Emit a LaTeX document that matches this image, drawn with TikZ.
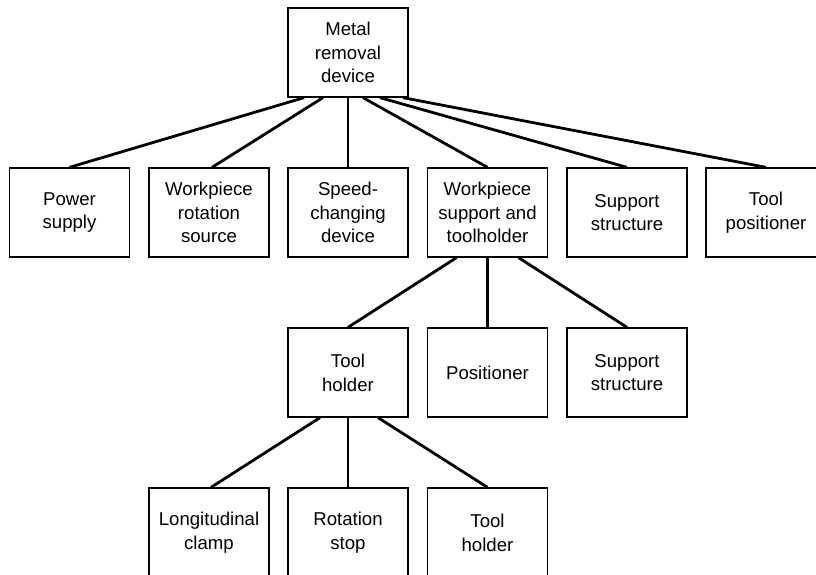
\documentclass[tikz,border=0pt]{standalone}
\usepackage{fontspec}
\setmainfont{Liberation Sans}
\tikzset{
  part/.style={draw,line width=1.3pt,minimum width=120pt,minimum height=89pt,
    inner sep=0pt,align=center,font=\fontsize{18.6}{23.7}\selectfont},
  link/.style={line width=2.8pt}
}
\begin{document}
\begin{tikzpicture}[x=1pt,y=1pt]
		\useasboundingbox (0,0) rectangle (816,-575);
		\path
		+(348,-52.5)   node[part]  (mrd) {Metal\\removal\\device}
		+(69.5,-212.5) node[part]  (pow) {Power\\supply}
		+(209,-212.5)  node[part]  (rot) {Workpiece\\rotation\\source}
		+(348,-212.5)  node[part]  (spd) {Speed-\\changing\\device}
		+(487.5,-212.5) node[part] (wst) {Workpiece\\support and\\toolholder}
		+(627,-212.5)  node[part]  (sup) {Support\\structure}
		+(766,-212.5)  node[part]  (tpo) {Tool\\positioner}
		+(348,-372.5)  node[part]  (th) {Tool\\holder}
		+(487.5,-372.5) node[part] (pos) {Positioner}
		+(627,-372.5)  node[part]  (sup2) {Support\\structure}
		+(209,-532.5)  node[part]  (clamp) {Longitudinal\\clamp}
		+(348,-532.5)  node[part]  (stop) {Rotation\\stop}
		+(487.5,-532.5) node[part] (th2) {Tool\\holder}
		;
		\draw[link] ([xshift=-44pt]mrd.south)--(pow.north);
		\draw[link] ([xshift=-25pt]mrd.south)--([xshift=3pt]rot.north);
		\draw[link] (mrd.south)--(spd.north);
		\draw[link] ([xshift=15pt]mrd.south)--(wst.north);
		\draw[link] ([xshift=32pt]mrd.south)--(sup.north);
		\draw[link] ([xshift=55pt]mrd.south)--(tpo.north);
		\draw[link] ([xshift=-31pt]wst.south)--(th.north);
		\draw[link] (wst.south)--(pos.north);
		\draw[link] ([xshift=31pt]wst.south)--(sup2.north);
		\draw[link] ([xshift=-28pt]th.south)--([xshift=2pt]clamp.north);
		\draw[link] (th.south)--(stop.north);
		\draw[link] ([xshift=30pt]th.south)--(th2.north);
		\end{tikzpicture}
\end{document}
